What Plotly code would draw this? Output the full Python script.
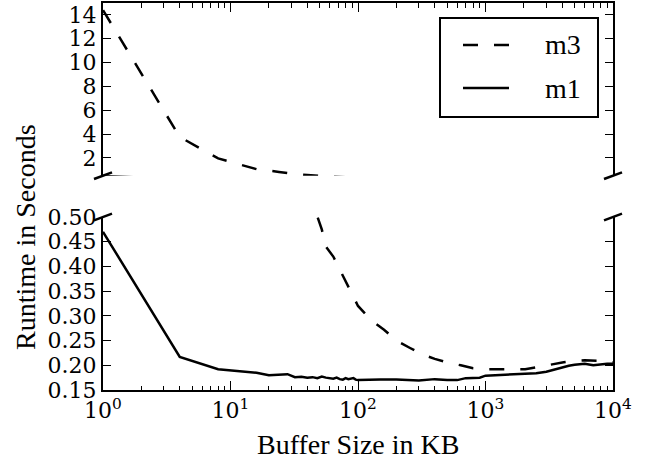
import plotly.graph_objects as go

# Buffer sizes (KB) and runtimes (s)
m3_size = [1, 4, 8, 12, 16, 24, 32, 40, 48, 52, 56, 64, 100, 128, 160, 200, 256,
           320, 400, 512, 640, 800, 1024, 1500, 2048, 2500, 3000, 4096, 5000,
           6000, 8000, 10000]
m3_time = [14.4, 3.75, 1.95, 1.4, 1.05, 0.82, 0.63, 0.56, 0.50, 0.475, 0.44,
           0.42, 0.32, 0.29, 0.272, 0.25, 0.235, 0.222, 0.213, 0.205, 0.2,
           0.194, 0.192, 0.192, 0.192, 0.196, 0.2, 0.206, 0.209, 0.21, 0.209,
           0.206]

m1_size = [1, 4, 8, 12, 16, 20, 24, 28, 32, 36, 40, 44, 48, 52, 56, 60, 64, 68,
           72, 76, 80, 84, 88, 92, 96, 100, 150, 200, 300, 400, 500, 600, 700,
           800, 900, 1000, 1500, 2000, 2500, 3000, 3500, 4000, 4500, 5000, 6000,
           7000, 8000, 9000, 10000]
m1_time = [0.47, 0.217, 0.192, 0.188, 0.185, 0.18, 0.181, 0.182, 0.176, 0.177,
           0.175, 0.176, 0.174, 0.177, 0.175, 0.174, 0.173, 0.175, 0.172, 0.171,
           0.174, 0.172, 0.173, 0.174, 0.171, 0.17, 0.171, 0.171, 0.169, 0.172,
           0.17, 0.17, 0.174, 0.174, 0.175, 0.179, 0.181, 0.182, 0.184, 0.187,
           0.192, 0.196, 0.199, 0.201, 0.203, 0.2, 0.202, 0.203, 0.203]

series_names = ["m3", "m1"]
x_ticks = [1, 10, 100, 1000, 10000]
x_ticktext = ["10<sup>0</sup>", "10<sup>1</sup>", "10<sup>2</sup>",
              "10<sup>3</sup>", "10<sup>4</sup>"]
top_ticks = [2, 4, 6, 8, 10, 12, 14]
bottom_ticks = [0.15, 0.20, 0.25, 0.30, 0.35, 0.40, 0.45, 0.50]

FONT = "Liberation Serif"
TICK_FONT = "DejaVu Serif"
W, H = 645, 461
ML, MR, MT, MB = 103, 32, 3, 71
PW, PH = W - ML - MR, H - MT - MB
DASH = "15px,16px"
LW = 2.5


def px(col):
    """pixel column -> paper x"""
    return (col - ML) / PW


def py(row):
    """pixel row -> paper y"""
    return (H - MB - row) / PH


top_dom = [py(175.7), 1.0]
bot_dom = [0.0, py(217)]

fig = go.Figure()
styles = {"m3": dict(color="black", width=LW, dash=DASH),
          "m1": dict(color="black", width=LW)}
data = {"m3": (m3_size, m3_time), "m1": (m1_size, m1_time)}
for xa, ya in (("x", "y"), ("x2", "y2")):
    for name in series_names:
        xs, ys = data[name]
        fig.add_trace(go.Scatter(x=xs, y=ys, mode="lines", name=name,
                                 line=styles[name], xaxis=xa, yaxis=ya,
                                 showlegend=False))

tickfont = dict(family=TICK_FONT, size=22, color="black")
common_x = dict(type="log", range=[0, 4], showgrid=False, zeroline=False,
                showline=True, linecolor="black", linewidth=2,
                ticks="inside", ticklen=9, tickwidth=1.3, tickcolor="black",
                tickvals=x_ticks,
                minor=dict(ticks="inside", ticklen=4.5, tickwidth=1.1,
                           tickcolor="black", dtick="D1", showgrid=False))
common_y = dict(showgrid=False, zeroline=False, showline=True,
                linecolor="black", linewidth=2, mirror="ticks",
                ticks="inside", ticklen=8, tickwidth=1.3, tickcolor="black",
                tickfont=tickfont)

fig.update_layout(
    width=W, height=H,
    margin=dict(l=ML, r=MR, t=MT, b=MB, autoexpand=False),
    paper_bgcolor="white", plot_bgcolor="white",
    font=dict(family=FONT, color="black"),
    xaxis=dict(**common_x, anchor="y", domain=[0, 1], ticktext=x_ticktext,
               tickfont=tickfont),
    xaxis2=dict(**common_x, anchor="y2", domain=[0, 1], side="top",
                matches="x", showticklabels=False),
    yaxis=dict(**common_y, anchor="x", domain=bot_dom, range=[0.15, 0.50],
               tickvals=bottom_ticks, tickformat=".2f"),
    yaxis2=dict(**common_y, anchor="x2", domain=top_dom, range=[0.5, 15],
                tickvals=top_ticks),
    showlegend=False,
)

# axis titles
fig.add_annotation(text="Buffer Size in KB", x=0.5, y=py(444), xref="paper",
                   yref="paper", showarrow=False, xanchor="center",
                   yanchor="middle", font=dict(family=FONT, size=28))
fig.add_annotation(text="Runtime in Seconds", x=px(25), y=py(237),
                   xref="paper", yref="paper", showarrow=False, textangle=-90,
                   xanchor="center", yanchor="middle",
                   font=dict(family=FONT, size=28))

# legend box with line samples
fig.add_shape(type="rect", xref="paper", yref="paper",
              x0=px(440), x1=px(598), y0=py(117), y1=py(18),
              line=dict(color="black", width=2), fillcolor="white", layer="above")
for name, row in zip(series_names, (45, 88)):
    fig.add_shape(type="line", xref="paper", yref="paper",
                  x0=px(463), x1=px(509), y0=py(row), y1=py(row),
                  line=styles[name], layer="above")
    fig.add_annotation(text=name, x=px(543), y=py(row), xref="paper",
                       yref="paper", showarrow=False, xanchor="left",
                       yanchor="middle", font=dict(family=FONT, size=28))

# diagonal break marks at the split between the two panels
dx, dy = 9 / PW, 3.3 / PH
for xc in (0.0, 1.0):
    for yc in (top_dom[0], bot_dom[1]):
        fig.add_shape(type="line", xref="paper", yref="paper",
                      x0=xc - dx, y0=yc - dy, x1=xc + dx, y1=yc + dy,
                      line=dict(color="black", width=LW))

fig.write_html("out.html")
